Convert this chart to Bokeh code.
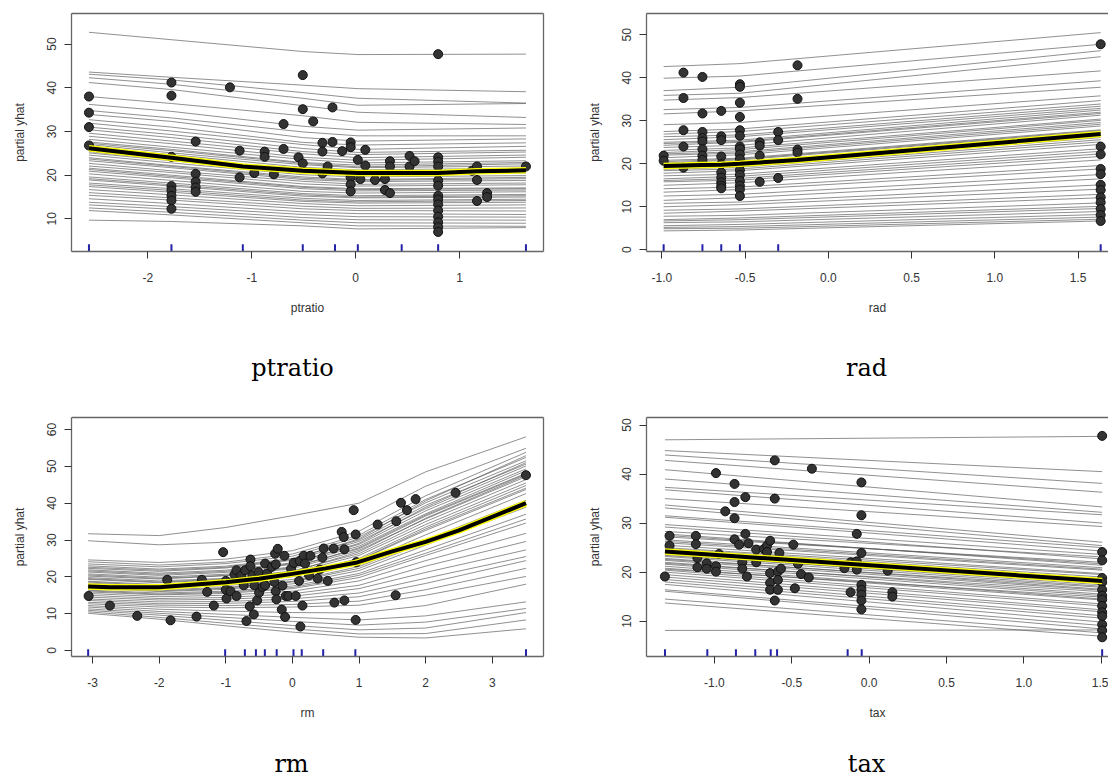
from bokeh.plotting import figure
from bokeh.models import LinearAxis, FixedTicker, Range1d, PrintfTickFormatter
from bokeh.core.properties import value
from bokeh.layouts import column, row
from bokeh.embed import file_html
from bokeh.resources import INLINE

# ---------------- ptratio ----------------
PT_KNOTS = [-2.567, -1.773, -0.509, 0.021, 1.639]
PT_ICE = [
    [52.7, 51.0, 48.3, 47.6, 47.7], [43.6, 42.4, 40.6, 39.8, 39.1], [43.1, 41.8, 38.9, 37.6, 36.5],
    [42.3, 40.8, 37.6, 36.0, 36.4], [41.2, 39.6, 35.9, 34.4, 33.2], [38.0, 36.4, 33.6, 32.1, 31.6],
    [36.2, 34.6, 31.2, 30.3, 30.8], [34.8, 33.1, 29.9, 29.0, 29.0], [33.9, 32.3, 28.6, 27.8, 28.3],
    [32.7, 31.0, 27.5, 26.9, 27.4], [31.9, 30.1, 27.0, 25.9, 26.6], [31.0, 29.3, 26.1, 25.2, 25.7],
    [30.4, 28.6, 25.4, 24.7, 25.3], [29.6, 27.8, 24.9, 24.0, 24.6], [28.9, 27.2, 24.1, 23.4, 24.1],
    [28.2, 26.4, 23.6, 22.8, 23.3], [27.6, 25.9, 22.9, 22.3, 22.9], [27.0, 25.1, 22.4, 21.7, 22.1],
    [26.4, 24.7, 21.8, 21.2, 21.6], [25.7, 24.0, 21.1, 20.6, 21.0], [25.1, 23.3, 20.7, 20.0, 20.5],
    [24.6, 22.8, 20.1, 19.6, 19.9], [24.0, 22.2, 19.6, 19.0, 19.5], [23.3, 21.7, 19.0, 18.5, 18.8],
    [22.7, 21.0, 18.6, 17.9, 18.2], [22.1, 20.6, 18.0, 17.5, 17.8], [21.6, 20.0, 17.4, 16.9, 17.1],
    [20.9, 19.4, 16.9, 16.4, 16.6], [20.3, 18.8, 16.3, 15.9, 16.2], [19.6, 18.2, 15.8, 15.3, 15.6],
    [18.9, 17.5, 15.2, 14.8, 15.0], [18.2, 16.9, 14.7, 14.2, 14.5], [17.4, 16.1, 14.0, 13.6, 13.8],
    [16.7, 15.5, 13.5, 13.0, 13.2], [16.0, 14.8, 12.9, 12.4, 12.5], [15.4, 14.3, 12.3, 11.9, 11.8],
    [14.6, 13.5, 11.6, 11.2, 11.0], [13.8, 12.8, 11.0, 10.5, 10.4], [13.2, 12.2, 10.3, 9.8, 9.7],
    [12.5, 11.5, 9.7, 9.1, 9.0], [11.9, 10.9, 9.1, 8.4, 8.3], [9.7, 9.4, 8.4, 7.7, 8.0],
    [27.3, 25.6, 22.7, 21.9, 22.6], [25.4, 23.5, 20.9, 20.4, 20.7], [23.7, 22.0, 19.3, 18.8, 19.2],
    [21.3, 19.7, 17.2, 16.7, 16.9], [19.2, 17.8, 15.5, 15.0, 15.3], [17.8, 16.5, 14.3, 13.9, 14.2],
]
PT_PDP_X = [-2.567, -1.773, -1.086, -0.509, 0.021, 0.794, 1.168, 1.639]
PT_PDP_Y = [26.15, 24.0, 22.0, 21.0, 20.5, 20.5, 20.9, 21.1]
PT_PTS_X = [-2.567, -2.567, -2.567, -2.567,
            -1.773, -1.773, -1.773, -1.773, -1.773, -1.773, -1.773, -1.773,
            -1.54, -1.54, -1.54, -1.54, -1.54, -1.21, -1.117, -1.117, -0.976, -0.876, -0.876,
            -0.787, -0.694, -0.694, -0.55, -0.509, -0.509, -0.509, -0.409, -0.32, -0.32, -0.32,
            -0.27, -0.223, -0.223, -0.13, -0.048, -0.048, -0.048, -0.048, -0.048, 0.021, 0.045,
            0.093, 0.093, 0.186, 0.282, 0.282, 0.33, 0.33, 0.33, 0.519, 0.519, 0.567,
            0.794, 0.794, 0.794, 0.794, 0.794, 0.794, 0.794, 0.794, 0.794, 0.794, 0.794, 0.794, 0.794, 0.794,
            1.12, 1.168, 1.168, 1.168, 1.265, 1.265, 1.639]
PT_PTS_Y = [38.0, 34.3, 31.0, 26.8,
            41.2, 38.2, 24.2, 17.5, 16.5, 15.3, 14.2, 12.3,
            27.7, 20.3, 18.5, 17.2, 16.2, 40.1, 25.6, 19.5, 20.5, 25.4, 24.2,
            20.2, 31.7, 26.0, 24.1, 42.9, 35.1, 22.7, 32.3, 27.4, 25.4, 20.4,
            22.0, 35.5, 27.6, 25.5, 27.5, 26.4, 19.5, 17.9, 16.3, 23.5, 19.1,
            25.8, 22.2, 18.9, 19.1, 16.6, 23.2, 22.0, 15.9, 24.4, 22.0, 23.2,
            47.7, 24.1, 23.1, 22.0, 18.8, 17.6, 15.3, 14.4, 13.3, 11.9, 10.5, 9.2, 8.1, 7.0,
            21.0, 22.0, 18.9, 14.1, 15.9, 15.0, 22.0]
PT_RUG = [-2.567, -1.773, -1.086, -0.509, -0.199, 0.021, 0.443, 0.794, 1.639]

# ---------------- rad ----------------
RAD_KNOTS = [-0.989, -0.531, 1.636]
RAD_ICE = [
    [42.6, 43.3, 50.5], [39.9, 40.4, 47.8], [37.0, 37.8, 46.3], [35.9, 36.4, 44.9], [34.8, 35.4, 41.6],
    [32.6, 33.1, 39.3], [31.6, 32.3, 37.8], [29.1, 29.6, 35.8], [27.5, 28.1, 34.7], [26.9, 27.5, 33.9],
    [26.3, 26.7, 33.4], [25.6, 26.3, 32.9], [25.0, 25.5, 32.5], [24.3, 25.0, 31.7], [23.8, 24.3, 31.3],
    [23.1, 23.7, 30.4], [22.6, 23.3, 30.1], [22.0, 22.5, 29.2], [21.4, 22.1, 28.8], [20.8, 21.3, 27.9],
    [20.2, 20.9, 27.5], [19.6, 20.1, 26.7], [19.0, 19.6, 26.1], [18.4, 18.8, 25.1], [17.8, 18.4, 24.5],
    [17.2, 17.6, 23.5], [16.5, 17.1, 22.9], [15.8, 16.2, 21.7], [15.0, 15.6, 20.9], [14.2, 14.6, 19.6],
    [13.4, 14.0, 18.8], [12.5, 12.9, 17.5], [11.5, 12.1, 16.5], [10.8, 11.1, 15.1], [10.0, 10.5, 14.1],
    [9.2, 9.5, 12.9], [8.5, 9.0, 12.1], [7.8, 8.0, 10.9], [7.0, 7.4, 10.1], [6.3, 6.5, 8.9],
    [5.6, 5.9, 8.2], [4.9, 5.0, 7.1], [4.4, 4.6, 6.7],
    [24.7, 25.2, 32.0], [22.3, 22.8, 29.6], [20.5, 21.1, 27.7], [18.7, 19.2, 25.6], [16.1, 16.6, 22.3],
    [6.7, 7.0, 9.6], [5.2, 5.4, 7.6],
]
RAD_PDP_X = [-0.989, -0.870, -0.756, -0.643, -0.531, -0.412, -0.301, -0.187, 1.636]
RAD_PDP_Y = [19.5, 19.6, 19.7, 19.8, 20.0, 20.3, 20.6, 20.9, 26.9]
RAD_PTS_X = [-0.989, -0.989,
             -0.870, -0.870, -0.870, -0.870, -0.870,
             -0.756, -0.756, -0.756, -0.756, -0.756, -0.756, -0.756, -0.756,
             -0.643, -0.643, -0.643, -0.643, -0.643, -0.643, -0.643, -0.643, -0.643, -0.643,
             -0.531, -0.531, -0.531, -0.531, -0.531, -0.531, -0.531, -0.531, -0.531, -0.531,
             -0.531, -0.531, -0.531, -0.531, -0.531, -0.531, -0.531,
             -0.412, -0.412, -0.412, -0.412, -0.301, -0.301, -0.301,
             -0.185, -0.185, -0.185, -0.185,
             1.636, 1.636, 1.636, 1.636, 1.636, 1.636, 1.636, 1.636, 1.636, 1.636, 1.636, 1.636]
RAD_PTS_Y = [21.9, 20.7,
             41.2, 35.3, 27.8, 24.0, 19.1,
             40.2, 31.7, 27.4, 26.0, 25.2, 23.4, 21.9, 20.9,
             32.3, 26.4, 25.5, 21.7, 19.9, 18.0, 16.8, 15.7, 14.9, 14.3,
             38.5, 37.9, 34.2, 30.9, 27.8, 26.5, 24.0, 23.4, 22.2, 21.1,
             19.8, 18.5, 17.4, 16.0, 14.9, 14.0, 12.5,
             25.0, 24.2, 21.9, 15.8, 27.4, 25.5, 16.7,
             42.9, 35.1, 23.3, 22.6,
             47.8, 24.0, 22.2, 18.8, 17.6, 15.1, 13.9, 12.2, 11.0, 9.5, 8.1, 6.7]
RAD_RUG = [-0.989, -0.756, -0.643, -0.531, -0.301, 1.636]

# ---------------- rm ----------------
RM_KNOTS = [-3.067, -2.0, -1.0, 0.0, 1.0, 2.0, 3.507]
RM_ICE = [
    [31.7, 31.2, 33.4, 36.6, 40.0, 48.5, 58.0], [29.8, 28.7, 29.4, 31.2, 35.3, 44.6, 54.9],
    [24.6, 23.9, 24.8, 27.1, 32.4, 42.0, 53.8], [24.1, 23.2, 24.0, 26.2, 31.3, 41.0, 52.4],
    [23.5, 22.7, 23.6, 25.6, 30.8, 40.1, 51.5], [23.0, 22.1, 22.9, 25.0, 30.0, 39.4, 50.6],
    [22.3, 21.5, 22.4, 24.5, 29.6, 38.5, 50.1], [21.9, 21.0, 21.8, 23.8, 28.8, 37.9, 49.3],
    [21.3, 20.4, 21.2, 23.4, 28.3, 37.1, 48.8], [20.8, 19.9, 20.7, 22.7, 27.6, 36.5, 47.9],
    [20.2, 19.4, 20.3, 22.2, 27.2, 35.7, 47.2], [19.8, 18.9, 19.6, 21.6, 26.3, 35.0, 46.4],
    [19.3, 18.4, 19.2, 21.1, 25.8, 34.2, 45.5], [18.8, 17.9, 18.6, 20.5, 25.0, 33.5, 44.8],
    [18.3, 17.4, 18.2, 20.0, 24.5, 32.6, 43.7], [17.9, 17.0, 17.6, 19.3, 23.6, 31.4, 42.6],
    [17.4, 16.5, 17.1, 18.8, 22.8, 30.0, 40.8], [16.9, 16.0, 16.6, 18.1, 21.7, 28.6, 38.9],
    [16.4, 15.6, 16.1, 17.5, 20.9, 27.3, 37.0], [15.9, 15.1, 15.5, 16.8, 19.8, 25.8, 34.6],
    [15.5, 14.6, 15.0, 16.1, 18.9, 24.4, 31.8], [15.0, 14.1, 14.4, 15.4, 17.7, 22.9, 29.6],
    [14.5, 13.7, 13.9, 14.7, 16.8, 21.2, 27.3], [14.0, 13.2, 13.3, 14.0, 15.6, 19.6, 25.5],
    [13.6, 12.7, 12.8, 13.3, 14.6, 18.2, 24.4], [13.1, 12.3, 12.2, 12.5, 13.4, 16.5, 22.3],
    [12.7, 11.8, 11.6, 11.8, 12.3, 15.0, 20.1], [12.2, 11.2, 10.7, 10.3, 10.2, 12.2, 18.0],
    [11.8, 10.6, 9.8, 9.0, 8.3, 9.4, 13.2], [11.3, 10.1, 9.0, 7.9, 6.9, 7.7, 11.4],
    [10.9, 9.6, 8.2, 6.8, 5.6, 6.1, 10.3], [10.5, 9.0, 7.4, 5.9, 4.5, 4.6, 8.3],
    [10.1, 8.5, 6.7, 5.0, 3.6, 3.4, 5.9], [22.6, 21.8, 22.6, 24.8, 30.3, 40.6, 52.9],
    [20.5, 19.6, 20.4, 22.5, 27.9, 36.8, 48.1], [18.6, 17.6, 18.4, 20.3, 24.6, 33.0, 44.1],
    [21.6, 20.7, 21.5, 23.6, 29.1, 38.9, 51.0], [19.5, 18.6, 19.4, 21.4, 26.8, 35.9, 47.6],
    [17.2, 16.2, 16.9, 18.6, 22.3, 29.4, 40.1], [16.2, 15.3, 15.8, 17.1, 20.4, 26.4, 35.7],
]
RM_PDP_X = [-3.067, -2.74, -2.0, -1.0, -0.5, 0.0, 0.5, 0.95, 1.5, 2.0, 2.5, 3.507]
RM_PDP_Y = [17.4, 17.2, 17.2, 18.5, 19.5, 20.8, 22.3, 23.8, 26.9, 29.5, 32.6, 40.0]
RM_PTS_X = [-3.06, -2.74, -2.33, -1.88, -1.83, -1.44, -1.36, -1.28, -1.18, -1.04, -1.00, -1.00, -0.99,
            -0.93, -0.87, -0.84, -0.84, -0.77, -0.73, -0.71, -0.69, -0.64, -0.63, -0.63, -0.60, -0.58,
            -0.57, -0.53, -0.51, -0.50, -0.45, -0.41, -0.41, -0.38, -0.31, -0.27, -0.26, -0.25, -0.25,
            -0.24, -0.22, -0.16, -0.15, -0.12, -0.11, -0.10, -0.06, -0.02, 0.02, 0.05, 0.10, 0.11, 0.12,
            0.15, 0.17, 0.19, 0.25, 0.27, 0.38, 0.41, 0.45, 0.47, 0.53, 0.62, 0.63, 0.74, 0.77, 0.78,
            0.78, 0.92, 0.95, 0.95, 0.96, 1.28, 1.56, 1.55, 1.63, 1.72, 1.85, 2.45, 3.507]
RM_PTS_Y = [14.8, 12.2, 9.4, 19.2, 8.2, 9.2, 19.2, 15.9, 12.2, 26.7, 18.9, 16.5, 14.1,
            16.1, 20.6, 21.8, 14.8, 20.4, 17.7, 21.8, 8.0, 12.0, 24.7, 22.9, 20.4, 9.8,
            17.7, 13.6, 21.3, 15.7, 17.2, 23.6, 17.7, 20.9, 22.7, 18.6, 26.3, 23.4, 16.1,
            13.9, 27.6, 11.1, 17.6, 25.7, 9.1, 14.8, 14.8, 22.2, 23.8, 14.8, 18.9, 24.3, 6.5,
            12.2, 25.7, 23.6, 20.4, 25.7, 19.5, 22.0, 25.2, 27.7, 18.9, 27.7, 13.0, 32.2, 30.8, 27.5,
            13.6, 38.1, 31.5, 8.3, 24.0, 34.2, 35.1, 15.0, 40.1, 38.1, 41.1, 42.8, 47.6]
RM_RUG = [-3.067, -1.010, -0.714, -0.548, -0.414, -0.236, 0.016, 0.140, 0.462, 0.945, 3.507]

# ---------------- tax ----------------
TAX_KNOTS = [-1.3195, 1.506]
TAX_ICE = [
    [47.0, 47.7], [44.8, 40.5], [43.9, 38.1], [42.8, 36.3], [40.9, 33.3], [39.0, 32.2], [37.3, 31.7],
    [36.8, 30.0], [35.0, 29.3], [33.7, 26.1], [33.1, 25.4], [31.5, 25.0], [31.2, 24.3], [29.7, 23.6],
    [29.2, 22.7], [28.3, 23.1], [27.8, 21.4], [27.2, 22.0], [26.6, 20.9], [26.0, 20.4], [25.5, 19.7],
    [25.0, 19.5], [24.5, 18.4], [24.0, 18.1], [23.6, 17.4], [23.2, 17.1], [22.8, 16.5], [22.4, 16.3],
    [22.0, 15.5], [21.6, 15.2], [21.2, 14.5], [20.8, 14.3], [20.4, 13.5], [20.0, 13.1], [19.5, 12.3],
    [19.0, 11.9], [18.5, 11.1], [18.0, 10.6], [17.5, 9.8], [16.4, 9.1], [16.1, 8.4], [14.5, 7.6],
    [13.7, 6.9], [8.1, 8.2],
    [27.5, 21.7], [26.3, 20.6], [24.8, 19.0], [23.4, 17.8], [22.6, 16.9], [21.8, 16.0], [20.6, 14.9],
]
TAX_PDP_X = [-1.3195, 1.506]
TAX_PDP_Y = [24.2, 18.2]
TAX_PTS_X = [-1.32, -1.29, -1.29, -1.12, -1.12, -1.11, -1.11, -1.05, -1.05, -0.99, -0.99, -0.99, -0.97,
             -0.93, -0.87, -0.87, -0.87, -0.87, -0.84, -0.82, -0.82, -0.80, -0.80, -0.79, -0.78, -0.73,
             -0.73, -0.68, -0.66, -0.66, -0.64, -0.64, -0.64, -0.64, -0.61, -0.61, -0.61, -0.59, -0.59,
             -0.59, -0.58, -0.57, -0.49, -0.48, -0.46, -0.44, -0.39, -0.37, -0.16, -0.12, -0.12, -0.08,
             -0.08, -0.08, -0.05, -0.05, -0.05, -0.05, -0.05, -0.05, -0.05, -0.05, 0.12, 0.15, 0.15,
             1.506, 1.506, 1.506, 1.506, 1.506, 1.506, 1.506, 1.506, 1.506, 1.506, 1.506, 1.506, 1.506, 1.506]
TAX_PTS_Y = [19.1, 27.4, 25.4, 27.4, 25.7, 22.9, 21.0, 21.8, 20.7, 40.2, 21.2, 20.1, 23.7,
             32.4, 38.0, 34.3, 31.0, 26.7, 25.6, 22.0, 20.7, 35.3, 27.8, 19.1, 25.9, 24.6,
             22.0, 24.7, 25.4, 24.1, 26.4, 19.8, 17.8, 16.4, 42.8, 35.0, 14.2, 20.1, 18.4,
             16.4, 23.9, 20.7, 25.6, 16.7, 21.7, 19.6, 18.9, 41.1, 20.8, 22.0, 15.9, 27.8,
             22.2, 20.5, 38.3, 31.6, 23.9, 17.4, 16.4, 15.4, 14.2, 12.4, 20.3, 15.9, 15.0,
             47.8, 24.1, 22.4, 18.8, 17.9, 16.4, 15.2, 14.4, 13.1, 11.8, 11.0, 9.3, 8.1, 6.7]
TAX_RUG = [-1.3195, -1.046, -0.861, -0.736, -0.636, -0.595, -0.139, -0.048, 1.506]

TEXT = "#333333"
BOX = "#666666"


def style_axis(ax):
    ax.axis_line_color = BOX
    ax.axis_line_width = 1.3
    ax.major_tick_line_color = TEXT
    ax.major_tick_out = 7
    ax.major_tick_in = 0
    ax.minor_tick_line_color = None
    ax.major_label_text_font = "Liberation Sans"
    ax.major_label_text_font_size = "12px"
    ax.major_label_text_color = TEXT
    ax.axis_label_text_font = "Liberation Sans"
    ax.axis_label_text_font_size = "12px"
    ax.axis_label_text_font_style = "normal"
    ax.axis_label_text_color = TEXT


def blank_axis():
    ax = LinearAxis(ticker=FixedTicker(ticks=[]))
    ax.axis_line_color = BOX
    ax.axis_line_width = 1.3
    ax.major_tick_line_color = None
    ax.minor_tick_line_color = None
    ax.major_label_text_font_size = "0px"
    ax.major_label_standoff = 0
    return ax


def panel(name, knots, ice, pdp_x, pdp_y, pts_x, pts_y, rug, xr, yr, xticks, yticks, fmt,
          width, height, bl, br, bt, bb, right_box):
    p = figure(width=width, height=height, x_range=Range1d(*xr), y_range=Range1d(*yr),
               output_backend="svg", toolbar_location=None, title=None,
               min_border_left=bl, min_border_right=br, min_border_top=bt, min_border_bottom=bb,
               x_axis_label=name, y_axis_label="partial yhat")
    p.grid.visible = False
    p.outline_line_color = None
    p.background_fill_color = "white"
    p.border_fill_color = "white"

    p.multi_line(xs=[knots] * len(ice), ys=ice, line_color="#555555", line_alpha=0.65, line_width=1)
    p.scatter(pts_x, pts_y, size=9, fill_color="#333333", line_color="#111111", line_width=1)
    p.line(pdp_x, pdp_y, line_color="#ffff00", line_width=6.5)
    p.line(pdp_x, pdp_y, line_color="black", line_width=4)
    rug_top = yr[0] + 0.03 * (yr[1] - yr[0])
    p.segment(x0=rug, x1=rug, y0=[yr[0]] * len(rug), y1=[rug_top] * len(rug),
              line_color="#2222a8", line_width=2)

    xa = p.xaxis[0]
    ya = p.yaxis[0]
    style_axis(xa)
    style_axis(ya)
    xa.ticker = FixedTicker(ticks=xticks)
    xa.formatter = PrintfTickFormatter(format=fmt)
    xa.major_label_standoff = 14
    xa.axis_label_standoff = 16
    ya.ticker = FixedTicker(ticks=yticks)
    ya.major_label_orientation = "vertical"
    ya.major_label_standoff = 8
    ya.axis_label_standoff = 18

    p.add_layout(blank_axis(), "above")
    if right_box:
        p.add_layout(blank_axis(), "right")
    return p


def caption(name, width, height, cx, base_from_bottom):
    c = figure(width=width, height=height, x_range=Range1d(0, width), y_range=Range1d(0, height),
               output_backend="svg", toolbar_location=None, title=None,
               x_axis_location=None, y_axis_location=None,
               min_border_left=0, min_border_right=0, min_border_top=0, min_border_bottom=0)
    c.grid.visible = False
    c.outline_line_color = None
    c.background_fill_color = "white"
    c.border_fill_color = "white"
    c.text(x=[cx], y=[base_from_bottom], text=[name], text_align="center",
           text_baseline="alphabetic", text_font=value("DejaVu Serif"),
           text_font_size="24px", text_color="black")
    return c


p1 = panel("ptratio", PT_KNOTS, PT_ICE, PT_PDP_X, PT_PDP_Y, PT_PTS_X, PT_PTS_Y, PT_RUG,
           (-2.735, 1.808), (2.53, 57.0), [-2, -1, 0, 1], [10, 20, 30, 40, 50], "%d",
           554, 326, 71, 11, 13, 75, True)
p2 = panel("rad", RAD_KNOTS, RAD_ICE, RAD_PDP_X, RAD_PDP_Y, RAD_PTS_X, RAD_PTS_Y, RAD_RUG,
           (-1.092, 1.683), (-0.4, 54.95), [-1.0, -0.5, 0.0, 0.5, 1.0, 1.5], [0, 10, 20, 30, 40, 50], "%.1f",
           554, 326, 92, 0, 13, 75, False)
p3 = panel("rm", RM_KNOTS, RM_ICE, RM_PDP_X, RM_PDP_Y, RM_PTS_X, RM_PTS_Y, RM_RUG,
           (-3.317, 3.77), (-1.63, 63.26), [-3, -2, -1, 0, 1, 2, 3], [0, 10, 20, 30, 40, 50, 60], "%d",
           554, 326, 71, 11, 12, 75, True)
p4 = panel("tax", TAX_KNOTS, TAX_ICE, TAX_PDP_X, TAX_PDP_Y, TAX_PTS_X, TAX_PTS_Y, TAX_RUG,
           (-1.439, 1.547), (2.78, 51.55), [-1.0, -0.5, 0.0, 0.5, 1.0, 1.5], [10, 20, 30, 40, 50], "%.1f",
           554, 326, 92, 0, 12, 75, False)

c1 = caption("ptratio", 554, 79, 292, 38)
c2 = caption("rad", 554, 79, 312, 38)
c3 = caption("rm", 554, 48, 291, 16)
c4 = caption("tax", 554, 48, 312, 16)

layout = column(row(p1, p2), row(c1, c2), row(p3, p4), row(c3, c4))
open("out.html", "w").write(file_html(layout, INLINE))
